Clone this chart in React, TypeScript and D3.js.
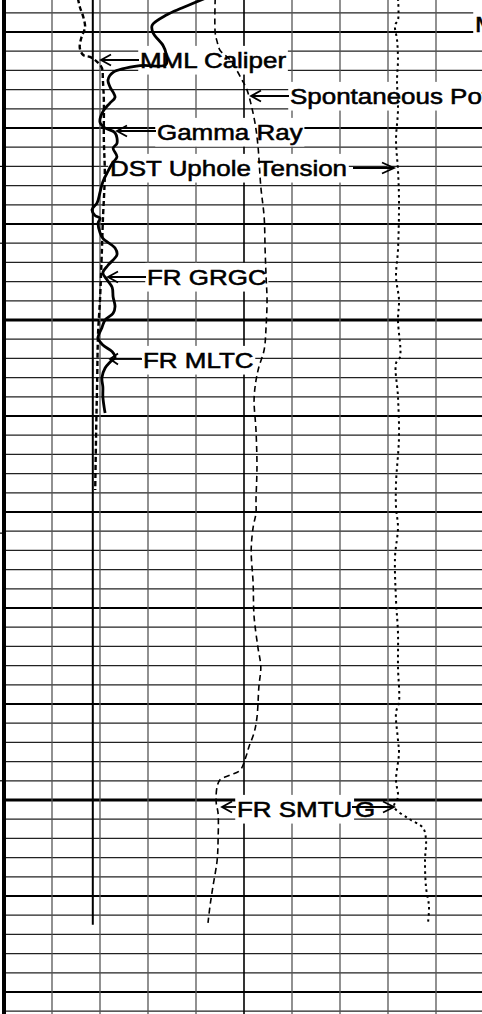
import React, { useEffect, useRef } from 'react';
import * as d3 from 'd3';

const WIDTH = 482;
const HEIGHT = 1014;

// ---- Data: [depth (ft), value] ----
const GAMMA_RAY: [number, number][] = [
  [4996.5, 62.8], [4997.5, 55.6], [4998.2, 50.9], [4999.3, 46.3], [5000.1, 46.6], [5001.4, 49.7],
  [5002.2, 50.6], [5003.4, 50.6], [5003.5, 42.5], [5004.2, 34.1], [5005.0, 32.5], [5005.7, 33.1],
  [5006.8, 34.7], [5007.4, 33.1], [5008.3, 30.9], [5009.4, 30.0], [5010.0, 31.6], [5010.5, 34.7],
  [5011.6, 35.3], [5012.1, 34.1], [5013.0, 35.3], [5013.7, 33.8], [5014.7, 32.2], [5015.6, 30.9],
  [5016.7, 30.0], [5017.8, 29.1], [5018.5, 27.5], [5019.1, 28.4], [5019.4, 30.0], [5019.9, 29.4],
  [5020.9, 30.0], [5021.5, 30.9], [5022.5, 34.7], [5023.2, 35.3], [5024.3, 32.5], [5025.1, 30.9],
  [5025.8, 32.2], [5026.6, 33.8], [5027.6, 34.1], [5028.6, 34.7], [5029.3, 34.1], [5030.0, 31.6],
  [5030.8, 30.6], [5031.9, 29.4], [5032.6, 30.9], [5033.3, 33.8], [5033.9, 34.7], [5034.4, 33.1],
  [5035.0, 31.6], [5036.0, 30.6], [5037.0, 30.9], [5038.0, 30.9], [5039.1, 31.3], [5039.7, 31.6],
];

const CALIPER: [number, number][] = [
  [4996.5, 7.54], [4997.4, 7.58], [4998.4, 7.65], [4999.5, 7.69], [5000.1, 7.65], [5000.8, 7.6],
  [5001.7, 7.58], [5002.4, 7.65], [5002.6, 7.79], [5003.1, 7.94], [5003.75, 8.04], [5005.0, 8.06],
  [5007.1, 8.08], [5011.25, 8.08], [5014.7, 8.1], [5019.6, 8.06], [5022.7, 8.04], [5027.9, 8.0],
  [5031.35, 7.96], [5036.6, 7.94], [5041.5, 7.92], [5047.7, 7.9],
];

const SPONTANEOUS_POTENTIAL: [number, number][] = [
  [4996.5, -56.0], [5000.1, -56.0], [5001.0, -55.6], [5001.9, -55.0], [5002.9, -52.9], [5004.0, -51.5],
  [5005.0, -50.4], [5006.0, -49.4], [5007.6, -48.5], [5009.5, -47.7], [5011.8, -47.1], [5016.1, -46.5],
  [5019.3, -45.8], [5022.7, -45.6], [5025.5, -45.4], [5027.9, -45.2], [5030.7, -45.4], [5033.1, -45.8],
  [5034.9, -46.9], [5036.3, -47.5], [5038.3, -47.9], [5041.5, -47.5], [5045.3, -47.3], [5048.8, -47.5],
  [5050.1, -47.5], [5051.6, -48.1], [5054.0, -48.5], [5057.4, -48.1], [5060.9, -47.9], [5064.1, -47.1],
  [5066.1, -46.5], [5068.2, -46.9], [5071.4, -47.3], [5073.0, -47.9], [5074.5, -49.0], [5075.5, -49.6],
  [5076.9, -50.8], [5077.4, -52.9], [5077.9, -55.0], [5078.6, -55.6], [5080.2, -55.8], [5081.4, -55.4],
  [5084.2, -55.4], [5086.3, -55.6], [5089.1, -56.5], [5091.1, -57.1], [5092.8, -57.5],
];

const UPHOLE_TENSION: [number, number][] = [
  [4996.5, 8208], [4998.75, 8208], [4999.3, 8146], [5000.8, 8188], [5002.9, 8208], [5005.0, 8188],
  [5008.1, 8208], [5011.25, 8167], [5014.4, 8208], [5017.5, 8229], [5022.7, 8208], [5025.5, 8167],
  [5027.9, 8229], [5030.0, 8208], [5033.85, 8250], [5034.5, 8167], [5038.0, 8208], [5042.2, 8229],
  [5047.0, 8167], [5049.5, 8167], [5051.6, 8208], [5054.7, 8146], [5059.2, 8167], [5062.6, 8208],
  [5066.1, 8208], [5069.8, 8229], [5070.9, 8167], [5073.75, 8208], [5075.1, 8229], [5077.9, 8167],
  [5079.7, 8208], [5080.7, 8125], [5081.9, 8417], [5082.9, 8729], [5084.2, 8792], [5086.25, 8771],
  [5089.1, 8792], [5091.1, 8854], [5092.8, 8833],
];

const BIT_SIZE = 7.85;
const BIT_SIZE_DEPTHS = [4996.5, 5093.0];
const DEPTH_MARKS = [5014.0, 5022.0, 5052.2, 5078.0];

// ---- Annotation layout ----
type Arrow = { x1: number; x2: number; y: number; head: number };
type Label = { text: string; x: number; base: number; box: boolean; arrow?: Arrow };
const LABELS: Label[] = [
  { text: 'M', x: 475, base: 32, box: true },
  { text: 'MML Caliper', x: 140, base: 68, box: true, arrow: { x1: 139, x2: 101, y: 60, head: 10 } },
  { text: 'Spontaneous Potential', x: 290, base: 104, box: true, arrow: { x1: 289, x2: 251, y: 96, head: 10 } },
  { text: 'Gamma Ray', x: 157, base: 140, box: true, arrow: { x1: 156, x2: 117, y: 131, head: 10 } },
  { text: 'DST Uphole Tension', x: 110, base: 176, box: true, arrow: { x1: 353, x2: 394, y: 168, head: 12 } },
  { text: 'FR GRGC', x: 147, base: 285, box: true, arrow: { x1: 146, x2: 108, y: 277, head: 10 } },
  { text: 'FR MLTC', x: 143, base: 368, box: true, arrow: { x1: 142, x2: 110, y: 359, head: 8 } },
  { text: 'G', x: 355, base: 817, box: false, arrow: { x1: 352, x2: 394, y: 807, head: 11 } },
  { text: 'FR SMTU', x: 237, base: 817, box: true, arrow: { x1: 236, x2: 222, y: 807, head: 10 } },
];

const FONT = "'Liberation Sans', Arial, Helvetica, sans-serif";

export default function App() {
  const ref = useRef<SVGSVGElement>(null);

  useEffect(() => {
    document.body.style.margin = '0';
    const svg = d3.select(ref.current);
    svg.selectAll('*').remove();

    const yScale = d3.scaleLinear().domain([5000, 5100]).range([32, 992]);
    const track: [number, number] = [4, 484];
    const gridX = d3.scaleLinear().domain([0, 10]).range(track);
    const grScale = d3.scaleLinear().domain([0, 150]).range(track);
    const calScale = d3.scaleLinear().domain([6, 16]).range(track);
    const spScale = d3.scaleLinear().domain([-100, 0]).range(track);
    const tenScale = d3.scaleLinear().domain([0, 10000]).range(track);

    svg.append('rect').attr('width', WIDTH).attr('height', HEIGHT).attr('fill', '#fff');

    // horizontal grid
    const depths = d3.range(4998, 5104, 2);
    const hg = svg.append('g');
    depths.forEach((d) => {
      const heavy = (d - 5030) % 50 === 0;
      const major = (d - 5000) % 10 === 0;
      hg.append('line')
        .attr('x1', 4).attr('x2', WIDTH)
        .attr('y1', yScale(d)).attr('y2', yScale(d))
        .attr('stroke', major ? '#000' : '#222')
        .attr('stroke-width', heavy ? 3 : major ? 2 : 1.2);
    });

    // vertical grid
    const vg = svg.append('g');
    d3.range(1, 10).forEach((i) => {
      vg.append('line')
        .attr('x1', gridX(i)).attr('x2', gridX(i))
        .attr('y1', 0).attr('y2', HEIGHT)
        .attr('stroke', i === 5 ? '#000' : '#555')
        .attr('stroke-width', i === 5 ? 1.6 : 1.3);
    });

    // left border
    svg.append('rect').attr('x', 2).attr('y', 0).attr('width', 4).attr('height', HEIGHT).attr('fill', '#000');
    DEPTH_MARKS.forEach((d) => {
      svg.append('line').attr('x1', 0).attr('x2', 3)
        .attr('y1', yScale(d)).attr('y2', yScale(d))
        .attr('stroke', '#000').attr('stroke-width', 1.2);
    });

    // labels
    const lg = svg.append('g');
    LABELS.forEach((lab) => {
      const g = lg.append('g').attr('transform', `translate(${lab.x},${lab.base}) scale(1.18,1)`);
      const rect = g.append('rect').attr('fill', '#fff');
      const t = g.append('text')
        .attr('x', 0).attr('y', 0)
        .attr('font-family', FONT)
        .attr('font-size', 22)
        .attr('fill', '#000')
        .attr('stroke', '#000')
        .attr('stroke-width', 0.55)
        .text(lab.text);
      const bb = (t.node() as SVGTextElement).getBBox();
      if (lab.box) {
        rect.attr('x', bb.x - 1.5).attr('y', bb.y - 2)
          .attr('width', bb.width + 3).attr('height', bb.height + 4);
      } else {
        rect.remove();
      }
    });
    LABELS.forEach((lab) => {
      if (!lab.arrow) return;
      const a = lab.arrow;
      const dir = a.x2 < a.x1 ? 1 : -1;
      const ag = lg.append('g').attr('stroke', '#000').attr('stroke-width', 1.8).attr('fill', 'none');
      ag.append('line').attr('x1', a.x1).attr('x2', a.x2).attr('y1', a.y).attr('y2', a.y);
      ag.append('path').attr('d', `M${a.x2 + dir * a.head},${a.y - 5.5}L${a.x2},${a.y}L${a.x2 + dir * a.head},${a.y + 5.5}`);
    });

    // curves
    const mk = (xs: d3.ScaleLinear<number, number>) =>
      d3.line<[number, number]>()
        .x((p) => xs(p[1]))
        .y((p) => yScale(p[0]))
        .curve(d3.curveCatmullRom.alpha(0.5));

    const cg = svg.append('g').attr('fill', 'none').attr('stroke', '#000');
    cg.append('line')
      .attr('x1', calScale(BIT_SIZE)).attr('x2', calScale(BIT_SIZE))
      .attr('y1', yScale(BIT_SIZE_DEPTHS[0])).attr('y2', yScale(BIT_SIZE_DEPTHS[1]))
      .attr('stroke-width', 2);
    cg.append('path').attr('d', mk(calScale)(CALIPER) || '')
      .attr('stroke-width', 2.4).attr('stroke-dasharray', '5 3');
    cg.append('path').attr('d', mk(spScale)(SPONTANEOUS_POTENTIAL) || '')
      .attr('stroke-width', 1.6).attr('stroke-dasharray', '6 4');
    cg.append('path').attr('d', mk(tenScale)(UPHOLE_TENSION) || '')
      .attr('stroke-width', 2).attr('stroke-dasharray', '2.5 3.5');
    cg.append('path').attr('d', mk(grScale)(GAMMA_RAY) || '')
      .attr('stroke-width', 2.8).attr('stroke-linejoin', 'round');
  }, []);

  return (
    <svg ref={ref} width={WIDTH} height={HEIGHT} style={{ display: 'block', position: 'absolute', left: 0, top: 0 }} />
  );
}
